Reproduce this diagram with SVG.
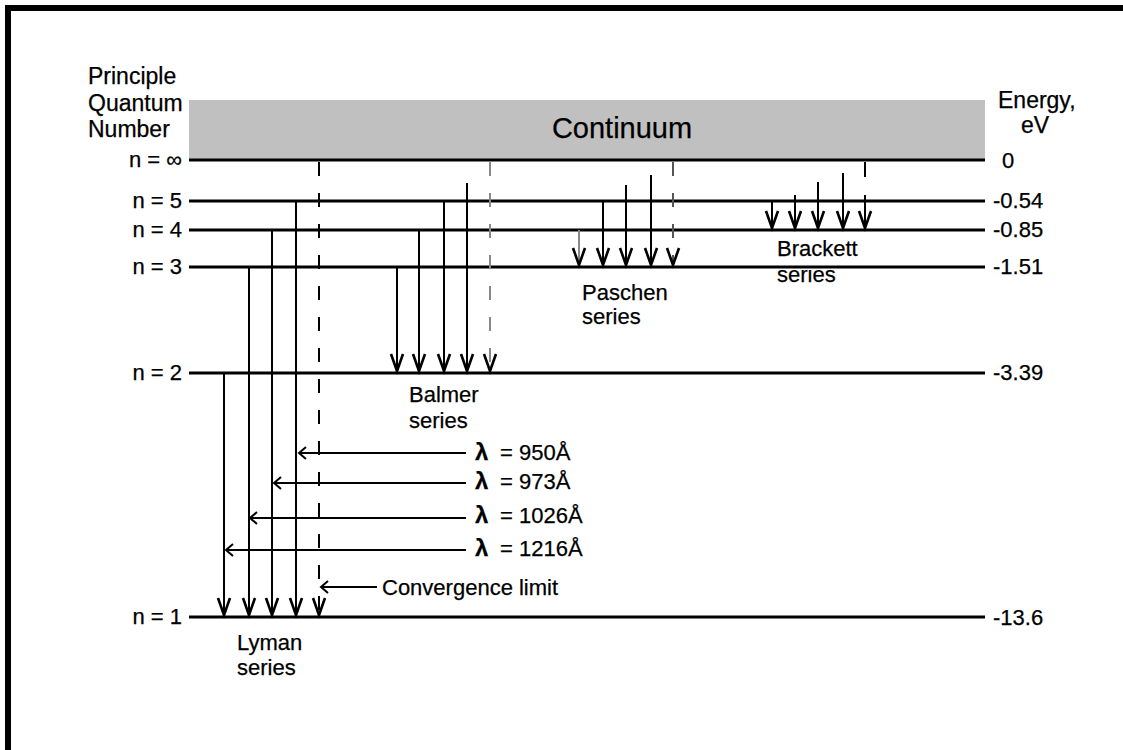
<svg xmlns="http://www.w3.org/2000/svg" width="1123" height="750" viewBox="0 0 1123 750">
<style>
text{font-family:"Liberation Sans",Arial,sans-serif;fill:#000;stroke:#000;stroke-width:0.25;}
.lbl{font-size:22px;}
.ttl{font-size:23px;}
.lam{font-size:22px;}
.lvl{stroke:#000;stroke-width:3;fill:none;}
.arr{stroke:#000;stroke-width:2;fill:none;marker-end:url(#vh);}
.dash{stroke:#000;stroke-width:2;fill:none;stroke-dasharray:14 17;marker-end:url(#vh);}
.gdash{stroke:#888;stroke-width:2;fill:none;stroke-dasharray:14 17;marker-end:url(#vh);}
.harr{stroke:#000;stroke-width:2;fill:none;marker-end:url(#hh);}
</style>
<defs>
<marker id="vh" markerUnits="userSpaceOnUse" markerWidth="20" markerHeight="16" viewBox="-18 -8 20 16" refX="0" refY="0" orient="auto" overflow="visible">
<path d="M-17,-6 L0,0 L-17,6" fill="none" stroke="#000" stroke-width="2.6"/>
</marker>
<marker id="hh" markerUnits="userSpaceOnUse" markerWidth="12" markerHeight="14" viewBox="-10 -7 12 14" refX="0" refY="0" orient="auto" overflow="visible">
<path d="M-7,-6 L0,0 L-7,6" fill="none" stroke="#000" stroke-width="2"/>
</marker>
</defs>
<rect x="0" y="0" width="1123" height="750" fill="#fff"/>
<rect x="8" y="8" width="1130" height="760" fill="none" stroke="#000" stroke-width="6"/>

<g id="continuum">
<rect x="189" y="100" width="796" height="60" fill="#c0c0c0"/>
<text x="622" y="138" text-anchor="middle" style="font-size:29px">Continuum</text>
</g>

<g id="axis-labels">
<text class="ttl" x="88" y="84">Principle</text>
<text class="ttl" x="88" y="111">Quantum</text>
<text class="ttl" x="88" y="137">Number</text>
<text class="ttl" x="998" y="108">Energy,</text>
<text class="ttl" x="1021" y="133">eV</text>
</g>

<g id="levels">
<g id="level-inf"><line class="lvl" x1="189" y1="160" x2="985" y2="160"/><text class="lbl" x="182" y="167" text-anchor="end">n = ∞</text><text class="lbl" x="1002" y="168">0</text></g>
<g id="level-5"><line class="lvl" x1="189" y1="201" x2="985" y2="201"/><text class="lbl" x="182" y="208" text-anchor="end">n = 5</text><text class="lbl" x="993" y="208">-0.54</text></g>
<g id="level-4"><line class="lvl" x1="189" y1="230" x2="985" y2="230"/><text class="lbl" x="182" y="237" text-anchor="end">n = 4</text><text class="lbl" x="993" y="237">-0.85</text></g>
<g id="level-3"><line class="lvl" x1="189" y1="267" x2="985" y2="267"/><text class="lbl" x="182" y="274" text-anchor="end">n = 3</text><text class="lbl" x="993" y="274">-1.51</text></g>
<g id="level-2"><line class="lvl" x1="189" y1="373" x2="985" y2="373"/><text class="lbl" x="182" y="380" text-anchor="end">n = 2</text><text class="lbl" x="993" y="380">-3.39</text></g>
<g id="level-1"><line class="lvl" x1="189" y1="617" x2="985" y2="617"/><text class="lbl" x="182" y="624" text-anchor="end">n = 1</text><text class="lbl" x="993" y="625">-13.6</text></g>
</g>

<g id="connectors">
<line class="arr" x1="224" y1="373" x2="224" y2="615"/>
<line class="arr" x1="249" y1="267" x2="249" y2="615"/>
<line class="arr" x1="272" y1="230" x2="272" y2="615"/>
<line class="arr" x1="296" y1="201" x2="296" y2="615"/>
<line class="dash" x1="319" y1="162" x2="319" y2="615"/>
<line class="arr" x1="397" y1="267" x2="397" y2="371"/>
<line class="arr" x1="419" y1="230" x2="419" y2="371"/>
<line class="arr" x1="444" y1="201" x2="444" y2="371"/>
<line class="arr" x1="467" y1="183" x2="467" y2="371"/>
<line class="gdash" x1="490" y1="162" x2="490" y2="371"/>
<line x1="579" y1="230" x2="579" y2="265" stroke="#888" stroke-width="2" marker-end="url(#vh)"/>
<line class="arr" x1="603" y1="201" x2="603" y2="265"/>
<line class="arr" x1="626" y1="185" x2="626" y2="265"/>
<line class="arr" x1="651" y1="175" x2="651" y2="265"/>
<line class="dash" x1="673" y1="162" x2="673" y2="265" style="stroke:#555"/>
<line class="arr" x1="772" y1="201" x2="772" y2="228"/>
<line class="arr" x1="795" y1="195" x2="795" y2="228"/>
<line class="arr" x1="818" y1="182" x2="818" y2="228"/>
<line class="arr" x1="843" y1="173" x2="843" y2="228"/>
<line x1="865" y1="162" x2="865" y2="177" stroke="#000" stroke-width="2"/>
<line class="arr" x1="865" y1="195" x2="865" y2="228"/>
<line class="harr" x1="466" y1="453" x2="299" y2="453"/>
<line class="harr" x1="466" y1="483" x2="274" y2="483"/>
<line class="harr" x1="466" y1="518" x2="250" y2="518"/>
<line class="harr" x1="466" y1="550" x2="226" y2="550"/>
<line class="harr" x1="377" y1="587" x2="321" y2="587"/>
</g>

<g id="series-labels">
<g id="lyman"><text class="lbl" x="237" y="650">Lyman</text><text class="lbl" x="237" y="675">series</text></g>
<g id="balmer"><text class="lbl" x="409" y="402">Balmer</text><text class="lbl" x="409" y="428">series</text></g>
<g id="paschen"><text class="lbl" x="582" y="300">Paschen</text><text class="lbl" x="582" y="324">series</text></g>
<g id="brackett"><text class="lbl" x="777" y="256">Brackett</text><text class="lbl" x="777" y="282">series</text></g>
</g>

<g id="wavelengths">
<text class="lam" x="475" y="460"><tspan font-weight="bold" font-size="24">λ</tspan><tspan x="500">= 950Å</tspan></text>
<text class="lam" x="475" y="489"><tspan font-weight="bold" font-size="24">λ</tspan><tspan x="500">= 973Å</tspan></text>
<text class="lam" x="475" y="523"><tspan font-weight="bold" font-size="24">λ</tspan><tspan x="500">= 1026Å</tspan></text>
<text class="lam" x="475" y="556"><tspan font-weight="bold" font-size="24">λ</tspan><tspan x="500">= 1216Å</tspan></text>
<text class="lam" x="382" y="595">Convergence limit</text>
</g>
</svg>
